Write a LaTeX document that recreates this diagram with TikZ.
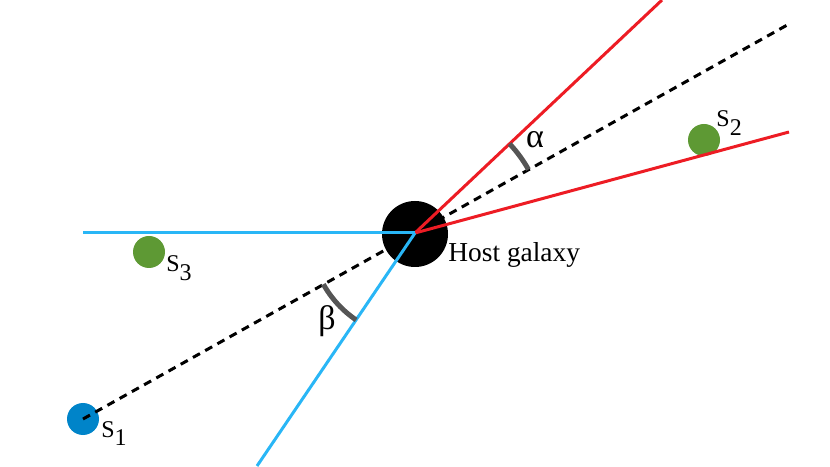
\documentclass[tikz,border=0pt]{standalone}
\usepackage{fontspec}
\setmainfont{Liberation Serif}
\definecolor{jetred}{RGB}{237,28,36}
\definecolor{coneblue}{RGB}{41,182,246}
\definecolor{srcblue}{RGB}{0,132,201}
\definecolor{srcgreen}{RGB}{94,153,52}
\definecolor{arcgray}{RGB}{85,85,85}
\newcommand{\srclabel}[1]{S\raisebox{-0.75ex}{#1}}

\begin{document}
\begin{tikzpicture}[x=0.5pt,y=0.5pt]
	\useasboundingbox (0,0) rectangle (830,466);
	\tikzstyle{Source}=[circle,inner sep=0pt,minimum size=16pt]
	\tikzstyle{SrcText}=[anchor=base west,inner sep=0pt,font=\fontsize{12}{14}\selectfont]
	\tikzstyle{GreekText}=[inner sep=0pt,font=\fontsize{17}{20}\selectfont]
	\tikzstyle{JetLine}=[jetred,line width=1.5pt]
	\tikzstyle{ConeLine}=[coneblue,line width=1.5pt]
	\tikzstyle{SightLine}=[black,line width=1.5pt,dash pattern=on 4pt off 3pt]
	\tikzstyle{AngleArc}=[arcgray,line width=2.5pt]
	\node[circle,fill=black,inner sep=0pt,minimum size=33pt] (host) at (415,232) {};
	\coordinate (vertex) at (415,233);
	\node[Source,fill=srcblue] (s1) at (83,47) {};
	\node[Source,fill=srcgreen] (s2) at (704,326) {};
	\node[Source,fill=srcgreen] (s3) at (149,214) {};
	\coordinate (jetA) at (662,466);
	\coordinate (jetB) at (789,334);
	\coordinate (coneA) at (83,233);
	\coordinate (coneB) at (257,0);
	\coordinate (sight) at (789,442);
	\draw[SightLine] (s1.center) -- (sight);
	\draw[JetLine] (vertex) -- (jetA);
	\draw[JetLine] (vertex) -- (jetB);
	\draw[ConeLine] (vertex) -- (coneA);
	\draw[ConeLine] (vertex) -- (coneB);
	\draw[AngleArc] (vertex) ++(43.3:130) arc (43.3:29.2:130);
	\draw[AngleArc] (vertex) ++(209.2:105) arc (209.2:235.9:105);
	\node[anchor=base west,inner sep=0pt,font=\fontsize{13.7}{16}\selectfont] (hostlabel) at (448,204) {Host galaxy};
	\node[SrcText] (s1label) at (101,29) {\srclabel{1}};
	\node[SrcText] (s2label) at (716,339) {\srclabel{2}};
	\node[SrcText] (s3label) at (166,194) {\srclabel{3}};
	\node[GreekText] (alpha) at (535,326) {α};
	\node[GreekText] (beta) at (327,145) {β};
\end{tikzpicture}
\end{document}
